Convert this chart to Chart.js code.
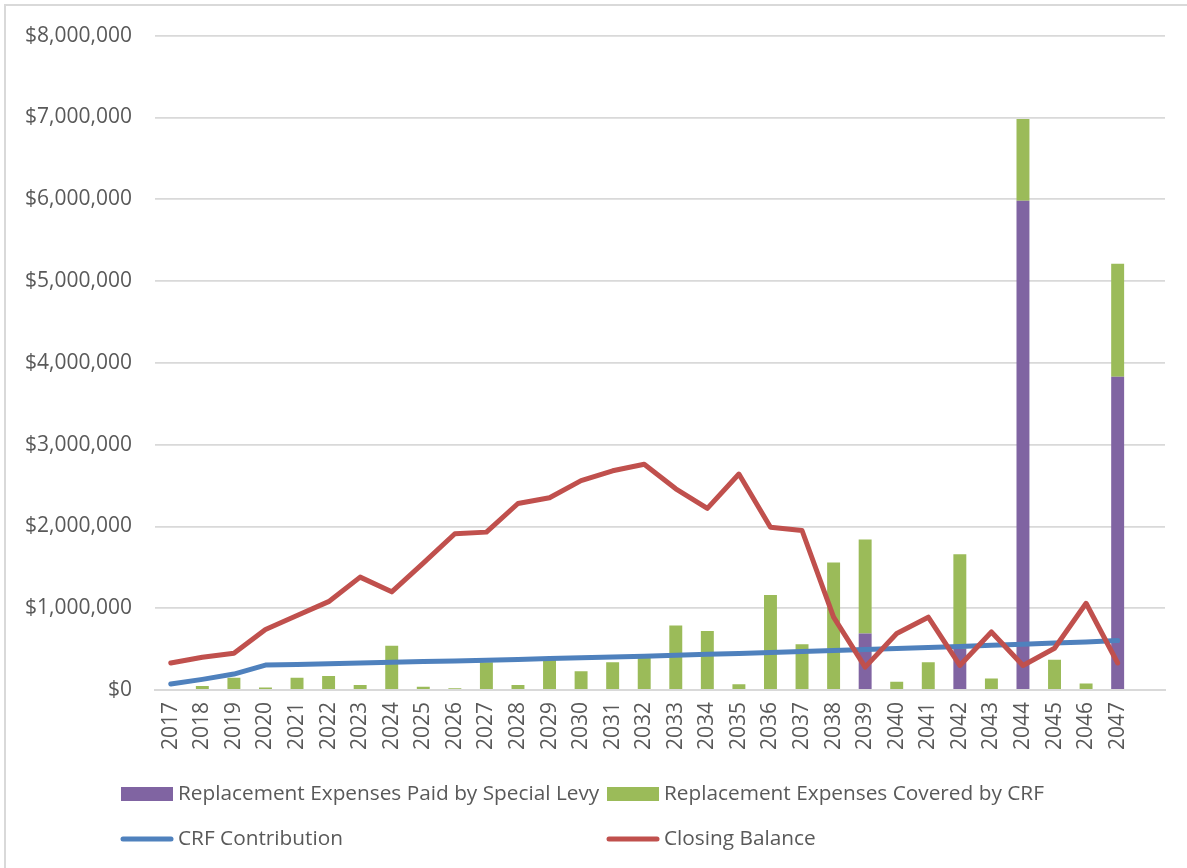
<!DOCTYPE html>
<html>
<head>
<meta charset="utf-8">
<script src="https://cdn.jsdelivr.net/npm/chart.js@4"></script>
<style>
  html, body { margin: 0; padding: 0; background: #fff; }
  #wrap { width: 1187px; height: 868px; position: relative; }
</style>
</head>
<body>
<div id="wrap"><canvas id="c" width="1187" height="868"></canvas></div>
<script>
const years = ['2017','2018','2019','2020','2021','2022','2023','2024','2025','2026','2027','2028','2029','2030','2031','2032','2033','2034','2035','2036','2037','2038','2039','2040','2041','2042','2043','2044','2045','2046','2047',''];
const paidBySpecialLevy = [0,0,0,0,0,0,0,0,0,0,0,0,0,0,0,0,0,0,0,0,0,0,690000,0,0,500000,0,5980000,0,0,3830000,null];
const coveredByCRF = [0,50000,150000,30000,150000,170000,60000,540000,40000,20000,340000,60000,370000,230000,340000,390000,790000,720000,70000,1160000,560000,1560000,1150000,100000,340000,1160000,140000,1000000,370000,80000,1380000,null];
const crfContribution = [73000,130000,195000,305000,313000,321000,330000,338000,347000,356000,365000,374000,384000,394000,404000,414000,425000,436000,447000,458000,470000,482000,494000,507000,520000,533000,546000,560000,574000,588000,604000,null];
const closingBalance = [330000,400000,450000,740000,910000,1080000,1380000,1200000,1550000,1910000,1930000,2280000,2350000,2560000,2680000,2760000,2460000,2220000,2640000,1990000,1950000,890000,280000,690000,890000,300000,710000,300000,510000,1060000,330000,null];
const yTicks = [0,1000000,2000000,3000000,4000000,5000000,6000000,7000000,8000000];

const FONT = '"Open Sans", sans-serif';
const TXT = '#595959';
const GRID = '#d9d9d9';
const PURPLE = '#8064A2', GREEN = '#9BBB59', BLUE = '#4F81BD', RED = '#C0504D';

const legendItems = [
  {label: 'Replacement Expenses Paid by Special Levy', color: PURPLE, kind: 'box', x: 121, y: 794},
  {label: 'Replacement Expenses Covered by CRF', color: GREEN, kind: 'box', x: 607, y: 794},
  {label: 'CRF Contribution', color: BLUE, kind: 'line', x: 121, y: 839},
  {label: 'Closing Balance', color: RED, kind: 'line', x: 607, y: 839}
];

const frameAndLegend = {
  id: 'frameAndLegend',
  afterDraw(chart) {
    const ctx = chart.ctx;
    ctx.save();
    ctx.strokeStyle = GRID;
    ctx.lineWidth = 2;
    ctx.strokeRect(5, 5, 1200, 900);
    ctx.font = '20.8px ' + FONT;
    ctx.textBaseline = 'middle';
    ctx.textAlign = 'left';
    legendItems.forEach(it => {
      if (it.kind === 'box') {
        ctx.fillStyle = it.color;
        ctx.fillRect(it.x, it.y - 7, 52, 14);
      } else {
        ctx.strokeStyle = it.color;
        ctx.lineWidth = 5;
        ctx.lineCap = 'round';
        ctx.beginPath();
        ctx.moveTo(it.x + 2, it.y);
        ctx.lineTo(it.x + 50, it.y);
        ctx.stroke();
      }
      ctx.fillStyle = TXT;
      ctx.fillText(it.label, it.x + 57, it.y);
    });
    ctx.restore();
  }
};

new Chart(document.getElementById('c'), {
  data: {
    labels: years,
    datasets: [
      {type: 'line', label: 'Closing Balance', data: closingBalance, borderColor: RED, backgroundColor: RED, borderWidth: 5, pointRadius: 0, tension: 0, stack: 'bal', order: 0, borderJoinStyle: 'round', borderCapStyle: 'round'},
      {type: 'line', label: 'CRF Contribution', data: crfContribution, borderColor: BLUE, backgroundColor: BLUE, borderWidth: 5, pointRadius: 0, tension: 0, stack: 'crf', order: 1, borderJoinStyle: 'round', borderCapStyle: 'round'},
      {type: 'bar', label: 'Replacement Expenses Paid by Special Levy', data: paidBySpecialLevy, backgroundColor: PURPLE, stack: 'exp', order: 2, barPercentage: 0.41, categoryPercentage: 1},
      {type: 'bar', label: 'Replacement Expenses Covered by CRF', data: coveredByCRF, backgroundColor: GREEN, stack: 'exp', order: 2, barPercentage: 0.41, categoryPercentage: 1}
    ]
  },
  options: {
    responsive: false,
    animation: false,
    devicePixelRatio: 1,
    layout: {padding: {top: 33, right: 22, left: 0, bottom: 0}},
    plugins: {legend: {display: false}, tooltip: {enabled: false}},
    scales: {
      x: {
        stacked: true,
        grid: {display: false, drawTicks: false},
        border: {display: true, color: GRID, width: 2},
        ticks: {color: TXT, font: {family: FONT, size: 21}, minRotation: 90, maxRotation: 90, autoSkip: false, padding: 12},
        afterFit(scale) { scale.height = 178; }
      },
      y: {
        stacked: true,
        min: 0, max: 8000000,
        afterBuildTicks(scale) { scale.ticks = yTicks.map(v => ({value: v})); },
        grid: {color: GRID, lineWidth: 1.8, drawTicks: false},
        border: {display: false},
        ticks: {color: TXT, font: {family: FONT, size: 21}, padding: 23,
          callback: v => '$' + Number(v).toLocaleString('en-US')},
        afterFit(scale) { scale.width = 155; }
      }
    }
  },
  plugins: [frameAndLegend]
});
</script>
</body>
</html>
